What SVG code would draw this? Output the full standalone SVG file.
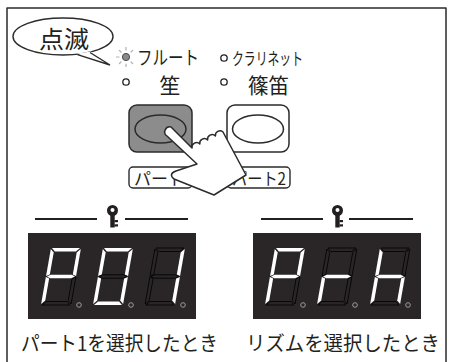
<svg xmlns="http://www.w3.org/2000/svg" xmlns:xlink="http://www.w3.org/1999/xlink" width="452" height="362" viewBox="0 0 452 362">
  <style>
    .jp { font-family: "Noto Sans CJK JP", "Noto Sans", sans-serif; fill: #231f20; }
    .line { fill: none; stroke: #2b2b2b; stroke-width: 1.5; stroke-linejoin: round; stroke-linecap: round; }
    .ind { fill: #fff; stroke: #231f20; stroke-width: 1.3; }
    .ray { stroke: #b0b0b0; stroke-width: 1.2; stroke-linecap: round; }
    .panel { fill: #2a2627; }
    .on { fill: #ffffff; stroke: none; }
    .off { fill: none; stroke: #050505; stroke-width: 0.9; }
    .dp { fill: none; stroke: #9a9a9a; stroke-width: 1; }
    .rule { stroke: #231f20; stroke-width: 2; }
    .key { fill: #231f20; }
  </style>
  <defs>
    <!-- seven-segment shapes, upright; digits are slanted with skewX -->
    <polygon id="sa" points="1,0 29,0 25.5,3.5 4.5,3.5"/>
    <polygon id="sb" points="30,1 30,28 26.5,26.5 26.5,4.5"/>
    <polygon id="sc" points="30,29 30,56 26.5,52.5 26.5,30.5"/>
    <polygon id="sd" points="1,57 4.5,53.5 25.5,53.5 29,57"/>
    <polygon id="se" points="0,29 3.5,30.5 3.5,52.5 0,56"/>
    <polygon id="sf" points="0,1 3.5,4.5 3.5,26.5 0,28"/>
    <polygon id="sg" points="1,28.5 4.5,26.8 25.5,26.8 29,28.5 25.5,30.2 4.5,30.2"/>
    <!-- key symbol -->
    <g id="key">
      <circle cx="0" cy="0" r="5.5" class="key"/>
      <circle cx="0" cy="-0.5" r="2" fill="#fff"/>
      <rect x="-2.2" y="3" width="4.4" height="14" class="key"/>
      <rect x="2" y="9.5" width="3.5" height="2.2" class="key"/>
      <rect x="2" y="13.8" width="3.5" height="2.2" class="key"/>
    </g>
  </defs>

  <!-- outer frame, open at the bottom -->
  <path class="line" d="M7,362 V8 H446 V362"/>

  <!-- speech balloon -->
  <g id="balloon">
    <ellipse cx="63" cy="36.5" rx="50" ry="18.5" fill="#fff" stroke="#2b2b2b" stroke-width="1.4"/>
    <polygon points="77,53.6 110,65 91,51.5" fill="#fff"/>
    <polyline points="77.5,54.6 110,65 90,52.5" fill="none" stroke="#2b2b2b" stroke-width="1.4" stroke-linejoin="miter"/>
    <text class="jp" x="64" y="47.5" font-size="24" text-anchor="middle" textLength="50" lengthAdjust="spacingAndGlyphs">点滅</text>
  </g>

  <!-- instrument indicators -->
  <g id="led-flute">
    <line class="ray" x1="126" y1="47.5" x2="126" y2="50"/>
    <line class="ray" x1="126" y1="64" x2="126" y2="66.5"/>
    <line class="ray" x1="116.5" y1="57" x2="119" y2="57"/>
    <line class="ray" x1="119.3" y1="50.3" x2="121" y2="52"/>
    <line class="ray" x1="132.7" y1="50.3" x2="131" y2="52"/>
    <line class="ray" x1="119.3" y1="63.7" x2="121" y2="62"/>
    <line class="ray" x1="132.7" y1="63.7" x2="131" y2="62"/>
    <circle cx="126" cy="57" r="3.6" fill="#8a8a8a" stroke="#4a4a4a" stroke-width="1"/>
    <text class="jp" x="137" y="65" font-size="19" textLength="62" lengthAdjust="spacingAndGlyphs">フルート</text>
  </g>
  <g id="led-clarinet">
    <circle class="ind" cx="224" cy="58" r="3.2"/>
    <text class="jp" x="232" y="65" font-size="17" textLength="71" lengthAdjust="spacingAndGlyphs">クラリネット</text>
  </g>
  <g id="led-sho">
    <circle class="ind" cx="126" cy="82" r="3.2"/>
    <text class="jp" x="170" y="93" font-size="21" text-anchor="middle">笙</text>
  </g>
  <g id="led-shinobue">
    <circle class="ind" cx="224" cy="82" r="3.2"/>
    <text class="jp" x="248" y="93" font-size="21" textLength="41" lengthAdjust="spacingAndGlyphs">篠笛</text>
  </g>

  <!-- part buttons -->
  <g id="button-part1">
    <rect x="129" y="105" width="63" height="47" rx="8" fill="#8c8c8c" stroke="#2b2b2b" stroke-width="1.5"/>
    <ellipse cx="160.5" cy="129" rx="25.5" ry="14" fill="#8c8c8c" stroke="#2b2b2b" stroke-width="1.5"/>
    <rect x="129" y="167" width="63" height="21" rx="4" fill="#fff" stroke="#2b2b2b" stroke-width="1.4"/>
    <text class="jp" x="134" y="184.5" font-size="17">パート1</text>
  </g>
  <g id="button-part2">
    <rect x="227" y="105" width="62" height="47" rx="8" fill="#fff" stroke="#2b2b2b" stroke-width="1.5"/>
    <ellipse cx="258" cy="129" rx="25.5" ry="14" fill="#fff" stroke="#2b2b2b" stroke-width="1.5"/>
    <rect x="227" y="167" width="63" height="21" rx="4" fill="#fff" stroke="#2b2b2b" stroke-width="1.4"/>
    <text class="jp" x="232" y="184.5" font-size="17" textLength="54" lengthAdjust="spacingAndGlyphs">パート2</text>
  </g>

  <!-- pressing hand -->
  <g id="hand">
    <path d="M171,127 L192,148 a4.6,4.6 0 0 1 7.8,-4 a4.6,4.6 0 0 1 7.8,-4 a4.6,4.6 0 0 1 7.8,-4 a4.6,4.6 0 0 1 7.6,-4 L246,175 L214,195 L174,179 Q168,174 176,171 L197,164 L167,136 A5,5 0 0 1 171,127 Z" fill="#fff" stroke="#2b2b2b" stroke-width="1.5" stroke-linejoin="round"/>
  </g>

  <!-- left display: P01 -->
  <g id="display-part1">
    <line class="rule" x1="35" y1="219" x2="97" y2="219"/>
    <line class="rule" x1="125" y1="219" x2="188" y2="219"/>
    <use xlink:href="#key" x="112.5" y="210.5"/>
    <rect class="panel" x="28" y="233" width="168" height="86"/>
    <g transform="translate(51,248) skewX(-10)">
      <use xlink:href="#sa" class="on"/><use xlink:href="#sb" class="on"/><use xlink:href="#sc" class="off"/>
      <use xlink:href="#sd" class="off"/><use xlink:href="#se" class="on"/><use xlink:href="#sf" class="on"/>
      <use xlink:href="#sg" class="on"/>
    </g>
    <g transform="translate(103,248) skewX(-10)">
      <use xlink:href="#sa" class="on"/><use xlink:href="#sb" class="on"/><use xlink:href="#sc" class="on"/>
      <use xlink:href="#sd" class="on"/><use xlink:href="#se" class="on"/><use xlink:href="#sf" class="on"/>
      <use xlink:href="#sg" class="off"/>
    </g>
    <g transform="translate(155,248) skewX(-10)">
      <use xlink:href="#sa" class="off"/><use xlink:href="#sb" class="on"/><use xlink:href="#sc" class="on"/>
      <use xlink:href="#sd" class="off"/><use xlink:href="#se" class="off"/><use xlink:href="#sf" class="off"/>
      <use xlink:href="#sg" class="off"/>
    </g>
    <circle class="dp" cx="79" cy="305" r="2.3"/>
    <circle class="dp" cx="131" cy="305" r="2.3"/>
    <circle class="dp" cx="183" cy="305" r="2.3"/>
    <text class="jp" x="21" y="351" font-size="20" textLength="197" lengthAdjust="spacingAndGlyphs">パート1を選択したとき</text>
  </g>

  <!-- right display: Prh -->
  <g id="display-rhythm">
    <line class="rule" x1="261" y1="219" x2="323" y2="219"/>
    <line class="rule" x1="349" y1="219" x2="413" y2="219"/>
    <use xlink:href="#key" x="337.5" y="210.5"/>
    <rect class="panel" x="253" y="233" width="168" height="86"/>
    <g transform="translate(275,248) skewX(-10)">
      <use xlink:href="#sa" class="on"/><use xlink:href="#sb" class="on"/><use xlink:href="#sc" class="off"/>
      <use xlink:href="#sd" class="off"/><use xlink:href="#se" class="on"/><use xlink:href="#sf" class="on"/>
      <use xlink:href="#sg" class="on"/>
    </g>
    <g transform="translate(327,248) skewX(-10)">
      <use xlink:href="#sa" class="off"/><use xlink:href="#sb" class="off"/><use xlink:href="#sc" class="off"/>
      <use xlink:href="#sd" class="off"/><use xlink:href="#se" class="on"/><use xlink:href="#sf" class="off"/>
      <use xlink:href="#sg" class="on"/>
    </g>
    <g transform="translate(380,248) skewX(-10)">
      <use xlink:href="#sa" class="off"/><use xlink:href="#sb" class="off"/><use xlink:href="#sc" class="on"/>
      <use xlink:href="#sd" class="off"/><use xlink:href="#se" class="on"/><use xlink:href="#sf" class="on"/>
      <use xlink:href="#sg" class="on"/>
    </g>
    <circle class="dp" cx="303" cy="305" r="2.3"/>
    <circle class="dp" cx="355" cy="305" r="2.3"/>
    <circle class="dp" cx="408" cy="305" r="2.3"/>
    <text class="jp" x="246" y="351" font-size="20" textLength="194" lengthAdjust="spacingAndGlyphs">リズムを選択したとき</text>
  </g>
</svg>
